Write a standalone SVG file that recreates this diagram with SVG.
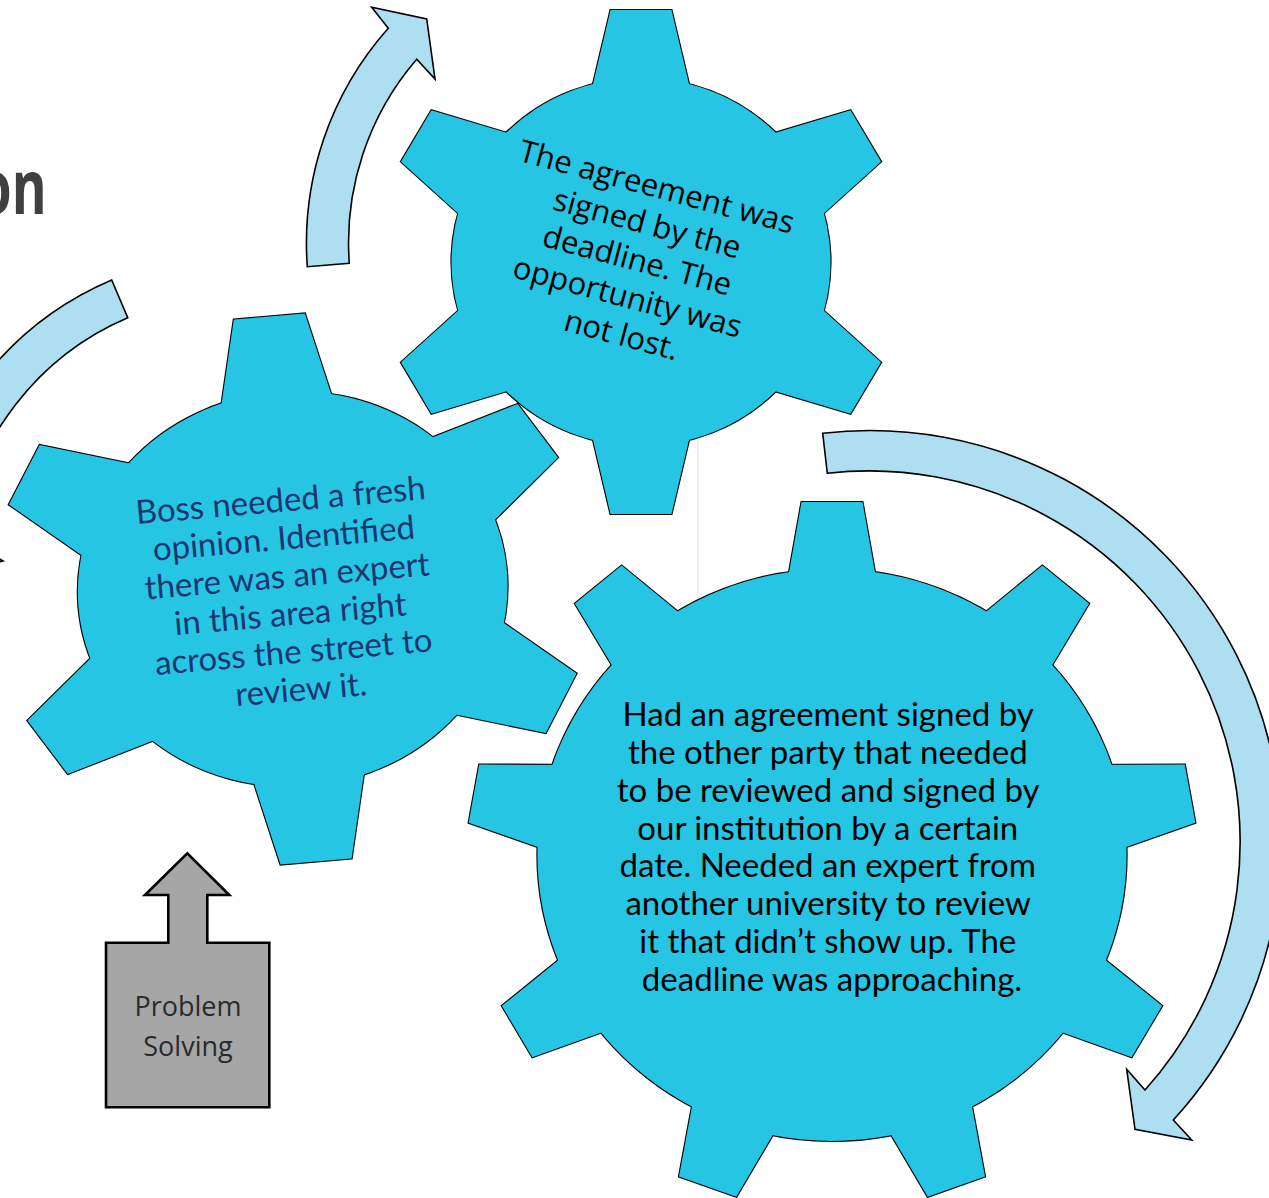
<svg xmlns="http://www.w3.org/2000/svg" xmlns:xlink="http://www.w3.org/1999/xlink" width="1269" height="1198" viewBox="0 0 1269 1198">
<style>
.gout{fill:#26C5E3;stroke:#000;stroke-width:2.2;stroke-linejoin:miter}
.gin{fill:#26C5E3;stroke:none}
.arr{fill:#ADDFF0;stroke:#000;stroke-width:1.6;stroke-linejoin:miter}
.t1{font-family:"Open Sans","Noto Sans",sans-serif;font-size:31px;fill:#000;text-anchor:middle}
.t2{font-family:"Lato","Open Sans",sans-serif;font-size:33px;fill:#1B3671;text-anchor:middle}
.t3{font-family:"Lato","Open Sans",sans-serif;font-size:33px;fill:#000;text-anchor:middle}
.tp{font-family:"Open Sans","Noto Sans",sans-serif;font-size:27px;fill:#2B2B2B;text-anchor:middle}
.title{font-family:"Open Sans","Noto Sans",sans-serif;font-size:76px;font-weight:700;fill:#404040;text-anchor:end}
</style>
<defs>
<polygon id="t1" points="-29.6,-252 29.6,-252 55.3,-140 -55.3,-140" vector-effect="non-scaling-stroke"/>
<g id="g1">
<circle r="184" vector-effect="non-scaling-stroke"/>
<use xlink:href="#t1"/><use xlink:href="#t1" transform="rotate(60)"/><use xlink:href="#t1" transform="rotate(120)"/>
<use xlink:href="#t1" transform="rotate(180)"/><use xlink:href="#t1" transform="rotate(240)"/><use xlink:href="#t1" transform="rotate(300)"/>
</g>
<polygon id="t2" points="-32.8,-273.5 32.8,-273.5 59.3,-150 -59.3,-150" vector-effect="non-scaling-stroke"/>
<g id="g2">
<circle r="197.6" vector-effect="non-scaling-stroke"/>
<use xlink:href="#t2"/><use xlink:href="#t2" transform="rotate(60)"/><use xlink:href="#t2" transform="rotate(120)"/>
<use xlink:href="#t2" transform="rotate(180)"/><use xlink:href="#t2" transform="rotate(240)"/><use xlink:href="#t2" transform="rotate(300)"/>
</g>
<polygon id="t3" points="-29.6,-353 29.6,-353 49.1,-240 -49.1,-240" vector-effect="non-scaling-stroke"/>
<g id="g3">
<circle r="286" vector-effect="non-scaling-stroke"/>
<use xlink:href="#t3"/><use xlink:href="#t3" transform="rotate(40)"/><use xlink:href="#t3" transform="rotate(80)"/>
<use xlink:href="#t3" transform="rotate(120)"/><use xlink:href="#t3" transform="rotate(160)"/><use xlink:href="#t3" transform="rotate(200)"/>
<use xlink:href="#t3" transform="rotate(240)"/><use xlink:href="#t3" transform="rotate(280)"/><use xlink:href="#t3" transform="rotate(320)"/>
</g>
</defs>
<rect width="1269" height="1198" fill="#FFFFFF"/>
<text class="title" transform="translate(46.6,214) scale(0.7,1)" x="0" y="0">on</text>
<line x1="698" y1="420" x2="698" y2="620" stroke="#ECECEC" stroke-width="1.5"/>
<g id="connectors">
<path class="arr" d="M 307.3,266.7 A 323 323 0 0 1 388.3,28.3 L 371.7,7.3 L 426.7,19 L 435,79 L 416.7,59.3 A 281 281 0 0 0 349.3,263.3 Z"/>
<path class="arr" d="M 111.7,280 A 323 323 0 0 0 -81.9,532 L -105.8,522.6 L -60,575 L 3,561 L -39.9,535.4 A 281 281 0 0 1 127.7,317.7 Z"/>
<path class="arr" d="M 822.7,433.3 A 411.4 411.4 0 0 1 1173.3,1120 L 1191.7,1140 L 1135,1129.3 L 1126.7,1069.3 L 1145,1090 A 371 371 0 0 0 827.3,473.3 Z"/>
</g>
<g id="gear-top">
<g transform="translate(641,262) scale(1.03,1)">
<use xlink:href="#g1" class="gout"/><use xlink:href="#g1" class="gin"/>
</g>
<text class="t1" transform="translate(641,262) rotate(15)">
<tspan x="0" y="-66">The agreement was</tspan>
<tspan x="0" y="-28">signed by the</tspan>
<tspan x="0" y="10">deadline. The</tspan>
<tspan x="0" y="48">opportunity was</tspan>
<tspan x="0" y="86">not lost.</tspan>
</text>
</g>
<g id="gear-big">
<g transform="translate(832,855) scale(1.03,1)">
<use xlink:href="#g3" class="gout"/><use xlink:href="#g3" class="gin"/>
</g>
<text class="t3">
<tspan x="832" y="726">Had an agreement signed by</tspan>
<tspan x="832" y="764">the other party that needed</tspan>
<tspan x="832" y="802">to be reviewed and signed by</tspan>
<tspan x="832" y="840">our institution by a certain</tspan>
<tspan x="832" y="877">date. Needed an expert from</tspan>
<tspan x="832" y="915">another university to review</tspan>
<tspan x="832" y="953">it that didn’t show up. The</tspan>
<tspan x="832" y="991">deadline was approaching.</tspan>
</text>
</g>
<g id="gear-left">
<g transform="translate(292.7,589) rotate(-4.9) scale(1.088,1)">
<use xlink:href="#g2" class="gout"/><use xlink:href="#g2" class="gin"/>
</g>
<text class="t2" transform="translate(293,596) rotate(-4.9)">
<tspan x="0" y="-85">Boss needed a fresh</tspan>
<tspan x="0" y="-47">opinion. Identified</tspan>
<tspan x="0" y="-9">there was an expert</tspan>
<tspan x="0" y="29">in this area right</tspan>
<tspan x="0" y="67">across the street to</tspan>
<tspan x="0" y="105">review it.</tspan>
</text>
</g>
<g id="problem-solving">
<path d="M 106,942.7 L 168.3,942.7 L 168.3,895 L 145,895 L 187.3,853.3 L 229.3,895 L 207.3,895 L 207.3,942.7 L 269.3,942.7 L 269.3,1107.3 L 106,1107.3 Z" fill="#A6A6A6" stroke="#000" stroke-width="2.6"/>
<text class="tp"><tspan x="188" y="1016">Problem</tspan><tspan x="188" y="1056">Solving</tspan></text>
</g>
</svg>
